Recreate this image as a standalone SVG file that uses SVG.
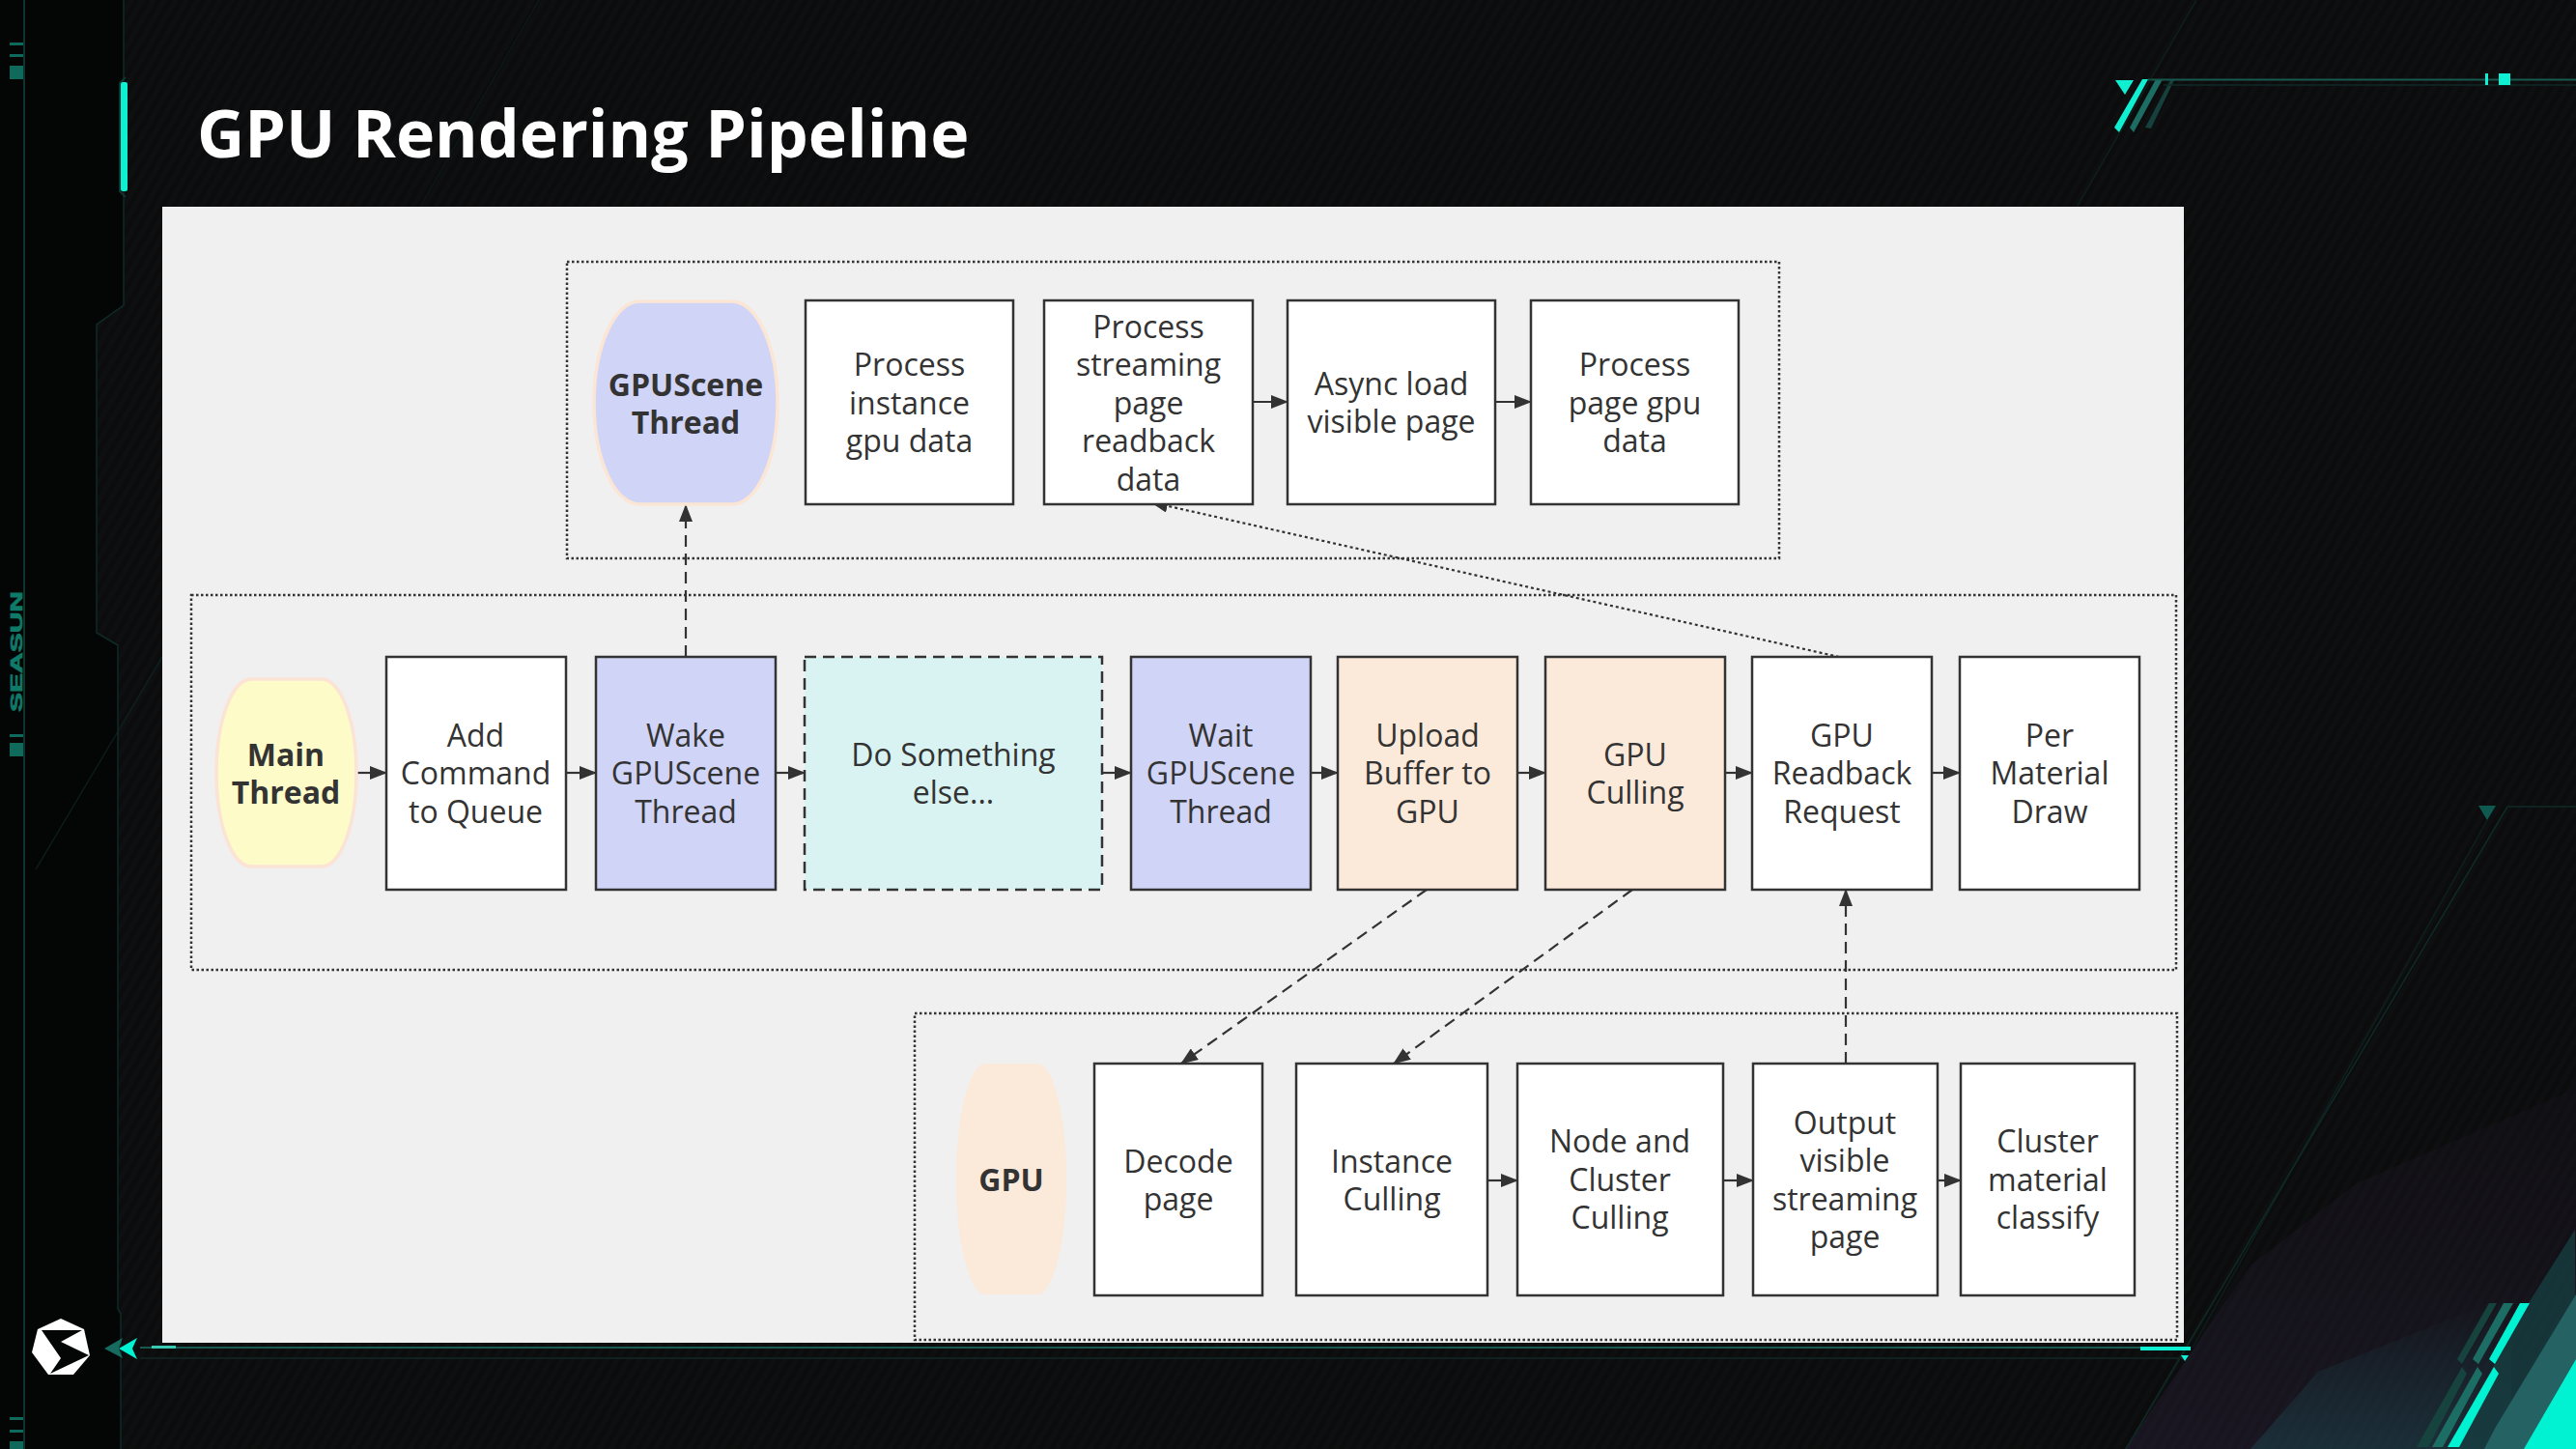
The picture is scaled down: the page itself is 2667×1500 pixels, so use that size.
<svg xmlns="http://www.w3.org/2000/svg" width="2667" height="1500" viewBox="0 0 2667 1500">
<style>
text{font-family:"Open Sans","Noto Sans","Liberation Sans",sans-serif;font-size:32px;fill:#333;text-anchor:middle}
.b{font-weight:700}
.n{stroke:#333;stroke-width:2.5;fill:#fff}
.grp{fill:none;stroke:#333;stroke-width:2.5;stroke-dasharray:2.5 2.5}
.c{fill:none;stroke:#333;stroke-width:2.2}
.a{marker-end:url(#ah)}
.d{stroke-dasharray:12 7}
.l{fill:none;stroke:#17594f;stroke-width:1.8}
.f{fill:none;stroke:#0f2b27;stroke-width:1.5}
</style>
<defs>
<pattern id="st" width="10" height="10" patternUnits="userSpaceOnUse" patternTransform="rotate(30)"><rect width="10" height="10" fill="#0e0f10"/><rect width="5" height="10" fill="#0c0c0d"/></pattern>
<marker id="ah" markerUnits="userSpaceOnUse" markerWidth="18" markerHeight="14" refX="17" refY="7" orient="auto"><path d="M0 0L18 7L0 14Z" fill="#333"/></marker>
<linearGradient id="pg" x1="0" y1="0" x2="0" y2="1"><stop offset="0" stop-color="#2a2138" stop-opacity=".3"/><stop offset="1" stop-color="#33294a" stop-opacity=".8"/></linearGradient>
<linearGradient id="tg" x1="0" y1="0" x2="0" y2="1"><stop offset="0" stop-color="#1e5058" stop-opacity="0"/><stop offset="1" stop-color="#1e5058" stop-opacity=".7"/></linearGradient>
</defs>
<g id="background">
<rect width="2667" height="1500" fill="url(#st)"/>
<polygon points="2200,1500 2330,1310 2440,1225 2660,1130 2667,1120 2667,1500" fill="url(#pg)" opacity=".4"/>
<polygon points="2330,1500 2400,1420 2600,1340 2600,1500" fill="url(#tg)" opacity=".6"/>
<polygon points="2666,1273 2617,1350 2534,1500 2667,1500" fill="#173d40" opacity=".8"/>
<polygon points="2667,1340 2584,1477 2572,1500 2667,1500" fill="#256264"/>
<polygon points="2667,1407 2613,1500 2667,1500" fill="#00f2d2"/>
<polygon points="0,0 128,0 128,316 100,336 100,655 122,668 122,1355 125,1360 125,1500 0,1500" fill="#040505"/>
<polyline points="128,0 128,316 100,336 100,655 122,668 122,1355 125,1360 125,1500" class="f"/>
<line x1="25" y1="0" x2="25" y2="1500" stroke="#10332e" stroke-width="2"/>
<line x1="558" y1="0" x2="435" y2="214" class="f" opacity=".4"/>
<line x1="37" y1="900" x2="168" y2="680" class="f" opacity=".6"/>
<g fill="#0f6a5b">
<rect x="10" y="44" width="14" height="3"/><rect x="10" y="56" width="14" height="3"/><rect x="10" y="68" width="14" height="14"/>
<rect x="10" y="760" width="14" height="3"/><rect x="10" y="769" width="14" height="14"/>
<rect x="10" y="1467" width="14" height="3"/><rect x="10" y="1480" width="14" height="3"/><rect x="10" y="1492" width="14" height="8"/>
</g>
<text transform="translate(23,737) rotate(-90)" x="0" y="0" textLength="125" lengthAdjust="spacingAndGlyphs" style="font-family:'Liberation Sans',sans-serif;font-weight:700;font-size:17px;fill:#0f7a68;stroke:#0f7a68;stroke-width:.7;text-anchor:start">SEASUN</text>
<polyline points="130,80 124,86 124,198 130,204" fill="none" stroke="#123531" stroke-width="2"/>
<rect x="125" y="85" width="7" height="113" rx="2" fill="#0ff0d2"/>
<polygon points="2190,83 2209,83 2200,98" fill="#0ff0d2"/>
<polygon points="2218,82 2224,82 2194,137 2189,132" fill="#0ff0d2"/>
<polygon points="2232,82 2239,82 2209,137 2205,132" fill="#1c6e64"/>
<polygon points="2247,83 2251,83 2227,133 2221,132" fill="#15403c"/>
<line x1="2224" y1="82.5" x2="2667" y2="82.5" class="l"/>
<line x1="2240" y1="88" x2="2667" y2="88" class="f"/>
<rect x="2573" y="76" width="3" height="12" fill="#0ff0d2"/><rect x="2587" y="76" width="12" height="12" fill="#0ff0d2"/>
<line x1="2274" y1="0" x2="2151" y2="213" class="f" opacity=".5"/>
<polygon points="2566,834 2584,834 2575,849" fill="#0f5a50"/>
<line x1="2596" y1="835" x2="2667" y2="835" class="f"/>
<line x1="2596" y1="835" x2="2201" y2="1500" class="f"/>
<line x1="2575" y1="849" x2="2270" y2="1395" class="f" opacity=".6"/>
<polygon points="2609,1349 2619,1349 2583,1412 2577,1407" fill="#00f2d2"/>
<polygon points="2582,1415 2587,1422 2546,1498 2534,1498" fill="#00f2d2"/>
<polygon points="2592,1349 2602,1349 2566,1412 2560,1407" fill="#1c6e64"/>
<polygon points="2565,1415 2570,1422 2529,1498 2518,1498" fill="#1c6e64"/>
<polygon points="2577,1349 2585,1349 2549,1412 2544,1407" fill="#17433f"/>
<polygon points="2549,1415 2554,1422 2514,1498 2502,1498" fill="#17433f"/>
<line x1="145" y1="1395" x2="2268" y2="1395" class="l"/>
<line x1="145" y1="1406" x2="2262" y2="1406" stroke="#10201e" stroke-width="2"/>
<rect x="157" y="1393" width="25" height="3" fill="#38c9b4"/>
<rect x="2216" y="1394" width="52" height="4" fill="#0ff0d2"/>
<polygon points="2258,1403 2266,1403 2262,1409" fill="#0ff0d2"/>
<polygon points="108,1396 127,1385 123,1396 127,1406" fill="#166a5e"/>
<polygon points="123,1396 142,1385 137,1396 142,1407" fill="#00f2d2"/>
<polygon points="63,1365 87,1376 93,1403 76,1423 50,1423 33,1400 39,1376" fill="#fff"/>
<polygon points="43,1377 85,1377 63,1389 92,1403 52,1422 63,1406" fill="#040505"/>
</g>
<text x="204" y="163" style="font-size:68px;font-weight:700;fill:#fff;text-anchor:start">GPU Rendering Pipeline</text>
<rect id="panel" x="168" y="214" width="2093" height="1176" fill="#f0f0f0"/>
<g id="groups">
<rect id="group-gpuscene" x="587" y="271" width="1255" height="307" class="grp"/>
<rect id="group-main" x="198" y="616" width="2055" height="388" class="grp"/>
<rect id="group-gpu" x="947" y="1049" width="1307" height="338" class="grp"/>
</g>
<g id="connectors">
<line x1="710" y1="680" x2="710" y2="523" class="c a d"/>
<line x1="1904" y1="680" x2="1192" y2="520" class="c a" stroke-dasharray="3 3"/>
<line x1="1297" y1="416" x2="1333" y2="416" class="c a"/>
<line x1="1548" y1="416" x2="1585" y2="416" class="c a"/>
<line x1="370" y1="800" x2="400" y2="800" class="c a"/>
<line x1="586" y1="800" x2="617" y2="800" class="c a"/>
<line x1="803" y1="800" x2="833" y2="800" class="c a"/>
<line x1="1141" y1="800" x2="1171" y2="800" class="c a"/>
<line x1="1357" y1="800" x2="1385" y2="800" class="c a"/>
<line x1="1571" y1="800" x2="1600" y2="800" class="c a"/>
<line x1="1786" y1="800" x2="1814" y2="800" class="c a"/>
<line x1="2000" y1="800" x2="2029" y2="800" class="c a"/>
<line x1="1540" y1="1222" x2="1571" y2="1222" class="c a"/>
<line x1="1784" y1="1222" x2="1815" y2="1222" class="c a"/>
<line x1="2006" y1="1222" x2="2030" y2="1222" class="c a"/>
<line x1="1477" y1="921" x2="1223" y2="1101" class="c a d"/>
<line x1="1690" y1="921" x2="1443" y2="1101" class="c a d"/>
<line x1="1911" y1="1101" x2="1911" y2="921" class="c a d"/>
</g>
<g id="gpuscene-thread"><path d="M662 312H758A47 105 0 0 1 758 522H662A47 105 0 0 1 662 312Z" fill="#d0d4f7" stroke="#fbe6d5" stroke-width="3.5"/><text class="b" x="710" y="409.5">GPUScene</text><text class="b" x="710" y="448.5">Thread</text></g>
<g id="process-instance"><rect x="834" y="311" width="215" height="211" class="n"/><text x="941.5" y="389">Process</text><text x="941.5" y="428.5">instance</text><text x="941.5" y="468">gpu data</text></g>
<g id="process-streaming"><rect x="1081" y="311" width="216" height="211" class="n"/><text x="1189" y="350">Process</text><text x="1189" y="389">streaming</text><text x="1189" y="428.5">page</text><text x="1189" y="468">readback</text><text x="1189" y="507.5">data</text></g>
<g id="async-load"><rect x="1333" y="311" width="215" height="211" class="n"/><text x="1440.5" y="409">Async load</text><text x="1440.5" y="448">visible page</text></g>
<g id="process-page"><rect x="1585" y="311" width="215" height="211" class="n"/><text x="1692.5" y="389">Process</text><text x="1692.5" y="428.5">page gpu</text><text x="1692.5" y="468">data</text></g>
<g id="main-thread"><path d="M260 703H333A36 97 0 0 1 333 897H260A36 97 0 0 1 260 703Z" fill="#fdfbc8" stroke="#fbe3d5" stroke-width="3.5"/><text class="b" x="296" y="793">Main</text><text class="b" x="296" y="832">Thread</text></g>
<g id="add-command"><rect x="400" y="680" width="186" height="241" class="n"/><text x="492.5" y="773">Add</text><text x="492.5" y="812">Command</text><text x="492.5" y="852">to Queue</text></g>
<g id="wake-gpuscene"><rect x="617" y="680" width="186" height="241" class="n" style="fill:#d0d4f6"/><text x="710" y="773">Wake</text><text x="710" y="812">GPUScene</text><text x="710" y="852">Thread</text></g>
<g id="do-something"><rect x="833" y="680" width="308" height="241" class="n" style="fill:#d9f3f3" stroke-dasharray="12 7"/><text x="987" y="793">Do Something</text><text x="987" y="832">else...</text></g>
<g id="wait-gpuscene"><rect x="1171" y="680" width="186" height="241" class="n" style="fill:#d0d4f6"/><text x="1264" y="773">Wait</text><text x="1264" y="812">GPUScene</text><text x="1264" y="852">Thread</text></g>
<g id="upload-buffer"><rect x="1385" y="680" width="186" height="241" class="n" style="fill:#fbe9d9"/><text x="1478" y="773">Upload</text><text x="1478" y="812">Buffer to</text><text x="1478" y="852">GPU</text></g>
<g id="gpu-culling"><rect x="1600" y="680" width="186" height="241" class="n" style="fill:#fbe9d9"/><text x="1693" y="793">GPU</text><text x="1693" y="832">Culling</text></g>
<g id="gpu-readback"><rect x="1814" y="680" width="186" height="241" class="n"/><text x="1907" y="773">GPU</text><text x="1907" y="812">Readback</text><text x="1907" y="852">Request</text></g>
<g id="per-material"><rect x="2029" y="680" width="186" height="241" class="n"/><text x="2122" y="773">Per</text><text x="2122" y="812">Material</text><text x="2122" y="852">Draw</text></g>
<g id="gpu"><path d="M1018 1101H1076A31 120 0 0 1 1076 1340H1018A31 120 0 0 1 1018 1101Z" fill="#fbe9da"/><text class="b" x="1047" y="1233">GPU</text></g>
<g id="decode-page"><rect x="1133" y="1101" width="174" height="240" class="n"/><text x="1220" y="1213.5">Decode</text><text x="1220" y="1253">page</text></g>
<g id="instance-culling"><rect x="1342" y="1101" width="198" height="240" class="n"/><text x="1441" y="1213.5">Instance</text><text x="1441" y="1253">Culling</text></g>
<g id="node-cluster"><rect x="1571" y="1101" width="213" height="240" class="n"/><text x="1677" y="1193">Node and</text><text x="1677" y="1233">Cluster</text><text x="1677" y="1272">Culling</text></g>
<g id="output-visible"><rect x="1815" y="1101" width="191" height="240" class="n"/><text x="1910" y="1174">Output</text><text x="1910" y="1213">visible</text><text x="1910" y="1253">streaming</text><text x="1910" y="1292">page</text></g>
<g id="cluster-material"><rect x="2030" y="1101" width="180" height="240" class="n"/><text x="2120" y="1193">Cluster</text><text x="2120" y="1233">material</text><text x="2120" y="1272">classify</text></g>
</svg>
